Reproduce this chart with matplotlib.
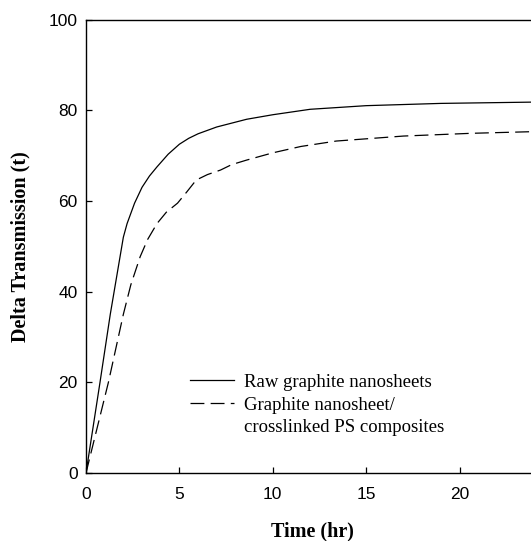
import numpy as np
import matplotlib
matplotlib.use("Agg")
import matplotlib.pyplot as plt

plt.rcParams.update({
    'font.family': 'Liberation Sans',
    'xtick.labelsize': 12.5,
    'ytick.labelsize': 12.5,
    'lines.scale_dashes': False,
})

# values
time_raw = [0, 0.75, 1.3, 2.0, 2.2, 2.6, 3.0, 3.4, 3.8, 4.4, 5.0, 5.5, 6.0, 7.0, 8.6, 10.0, 12.0, 15.0, 19.0, 24.2]
trans_raw = [0, 20, 35, 52, 55, 59.5, 63, 65.5, 67.5, 70.3, 72.5, 73.8, 74.8, 76.3, 78.0, 79.0, 80.2, 81.0, 81.5, 81.8]

time_comp = [0, 1.2, 2.0, 2.4, 2.9, 3.3, 3.8, 4.3, 4.9, 5.4, 5.9, 6.5, 7.2, 7.8, 8.6, 10.0, 11.5, 13.4, 17.0, 20.6, 24.2]
trans_comp = [0, 20, 35, 41.5, 47.7, 51.5, 55, 57.5, 59.5, 62, 64.6, 65.8, 66.8, 68.0, 69.0, 70.6, 72.0, 73.2, 74.3, 74.9, 75.3]

x_ticks = [0, 5, 10, 15, 20]
y_ticks = [0, 20, 40, 60, 80, 100]

label_raw = "Raw graphite nanosheets"
label_comp = ["Graphite nanosheet/", "crosslinked PS composites"]

fig = plt.figure(figsize=(5.31, 5.41), dpi=100)
ax = fig.add_axes([86/531, 1 - 473/541, 452/531, 453.5/541])

ax.plot(time_raw, trans_raw, color='black', lw=0.9, label=label_raw)
ax.plot(time_comp, trans_comp, color='black', lw=0.9, dashes=(10, 4.5), label=label_comp[0])
# second line of the composite label
ax.plot([], [], linestyle='none', label=label_comp[1])

ax.set_xlim(0, 24.2)
ax.set_ylim(0, 100)
ax.set_xticks(x_ticks)
ax.set_yticks(y_ticks)
ax.tick_params(direction='in', length=4, width=0.9)
ax.tick_params(axis='x', pad=10)
ax.tick_params(axis='y', pad=6)
for s in ax.spines.values():
    s.set_linewidth(1.0)

ax.set_xlabel('Time (hr)', family='Liberation Serif', weight='bold', fontsize=14.5, labelpad=14)
ax.set_ylabel('Delta Transmission (t)', family='Liberation Serif', weight='bold', fontsize=14.5, labelpad=13)

ax.legend(loc='center left', bbox_to_anchor=(0.23, 0.15), frameon=False,
          prop={'family': 'Liberation Serif', 'size': 13.5},
          handlelength=2.35, handletextpad=0.55, labelspacing=0.3,
          borderpad=0, borderaxespad=0)

fig.savefig('out.png', dpi=100)
